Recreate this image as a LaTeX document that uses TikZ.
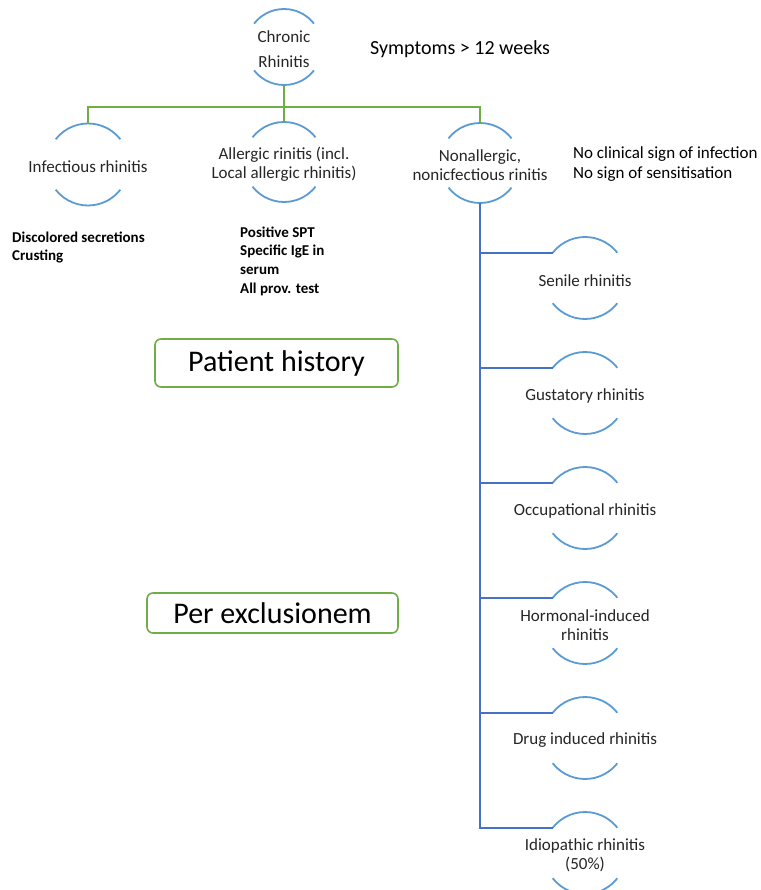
\documentclass[tikz,border=0pt]{standalone}
\usepackage{fontspec}
\setmainfont{Carlito}
\definecolor{arcblue}{HTML}{5B9BD5}
\definecolor{lgreen}{HTML}{70AD47}
\definecolor{cblue}{HTML}{4472C4}
\definecolor{ntxt}{HTML}{262626}
\tikzset{
  circ/.style={circle, minimum size=#1, inner sep=0pt, outer sep=0pt},
  ntext/.style={font=\fontsize{17}{19}\selectfont, text=ntxt, align=center, inner sep=0pt, yshift=-2.5pt},
  note/.style={font=\fontsize{15}{18.6}\selectfont\bfseries, align=left, anchor=north west, inner sep=0pt},
  arcline/.style={draw=arcblue, line width=1.8pt},
  gline/.style={draw=lgreen, line width=1.8pt},
  bline/.style={draw=cblue, line width=1.8pt},
  phase/.style={draw=lgreen, line width=1.6pt, rounded corners=6pt, inner sep=0pt,
    font=\fontsize{30}{32}\selectfont, text=black}
}
\begin{document}
\begin{tikzpicture}[x=1pt,y=-1pt]
\useasboundingbox (0,0) rectangle (760,890);
\clip (0,0) rectangle (760,890);
\fill[white] (0,0) rectangle (760,890);

% top
\node[circ=76pt, label={[ntext, font=\fontsize{17}{25}\selectfont]center:{Chronic\\Rhinitis}}] (chronic) at (284,47) {};
\node[font=\fontsize{20}{24}\selectfont, anchor=west, inner sep=0pt] (symptoms) at (370,49) {Symptoms > 12 weeks};

% level 1
\node[circ=82pt, label={[ntext]center:Infectious rhinitis}] (infectious) at (88,164.5) {};
\node[circ=80pt, label={[ntext]center:{Allergic rinitis (incl.\\Local allergic rhinitis)}}] (allergic) at (284,162) {};
\node[circ=80pt, label={[ntext]center:{Nonallergic,\\nonicfectious rinitis}}] (nonallergic) at (480,163) {};

% notes
\node[note] (infnote) at (12,231.5) {Discolored secretions\\Crusting};
\node[note] (allnote) at (240,226.5) {Positive SPT\\Specific IgE in\\serum\\All prov. test};
\node[note, font=\fontsize{17}{20}\selectfont\mdseries] (nonnote) at (573,146) {No clinical sign of infection\\No sign of sensitisation};

% boxes
\node[phase, minimum width=243pt, minimum height=48pt] (history) at (276.5,363) {Patient history};
\node[phase, minimum width=251pt, minimum height=40pt] (exclusion) at (272.5,613) {Per exclusionem};

% right column
\node[circ=82pt, label={[ntext]center:Senile rhinitis}] (senile) at (585,278) {};
\node[circ=82pt, label={[ntext]center:Gustatory rhinitis}] (gustatory) at (585,393) {};
\node[circ=82pt, label={[ntext]center:Occupational rhinitis}] (occupational) at (585,508) {};
\node[circ=82pt, label={[ntext]center:{Hormonal-induced\\rhinitis}}] (hormonal) at (585,623) {};
\node[circ=82pt, label={[ntext]center:Drug induced rhinitis}] (drug) at (585,738) {};
\node[circ=82pt, label={[ntext]center:{Idiopathic rhinitis\\(50\%)}}] (idiopathic) at (585,853) {};

% arcs
\foreach \n/\rad in {chronic/38, infectious/41, allergic/40, nonallergic/40, senile/41, gustatory/41, occupational/41, hormonal/41, drug/41, idiopathic/41} {
  \draw[arcline] (\n.142) arc[start angle=142, end angle=38, radius=\rad pt];
  \draw[arcline] (\n.218) arc[start angle=218, end angle=322, radius=\rad pt];
}

% green connectors
\coordinate (bus) at (284,107);
\draw[gline] (chronic.south) -- (bus);
\draw[gline] (infectious.north) |- (bus) -| (nonallergic.north);
\draw[gline] (bus) -- (allergic.north);

% blue connectors
\draw[bline] (nonallergic.south) |- (idiopathic.142);
\foreach \n in {senile,gustatory,occupational,hormonal,drug}
  \draw[bline] (nonallergic.south |- \n.142) -- (\n.142);
\end{tikzpicture}
\end{document}
